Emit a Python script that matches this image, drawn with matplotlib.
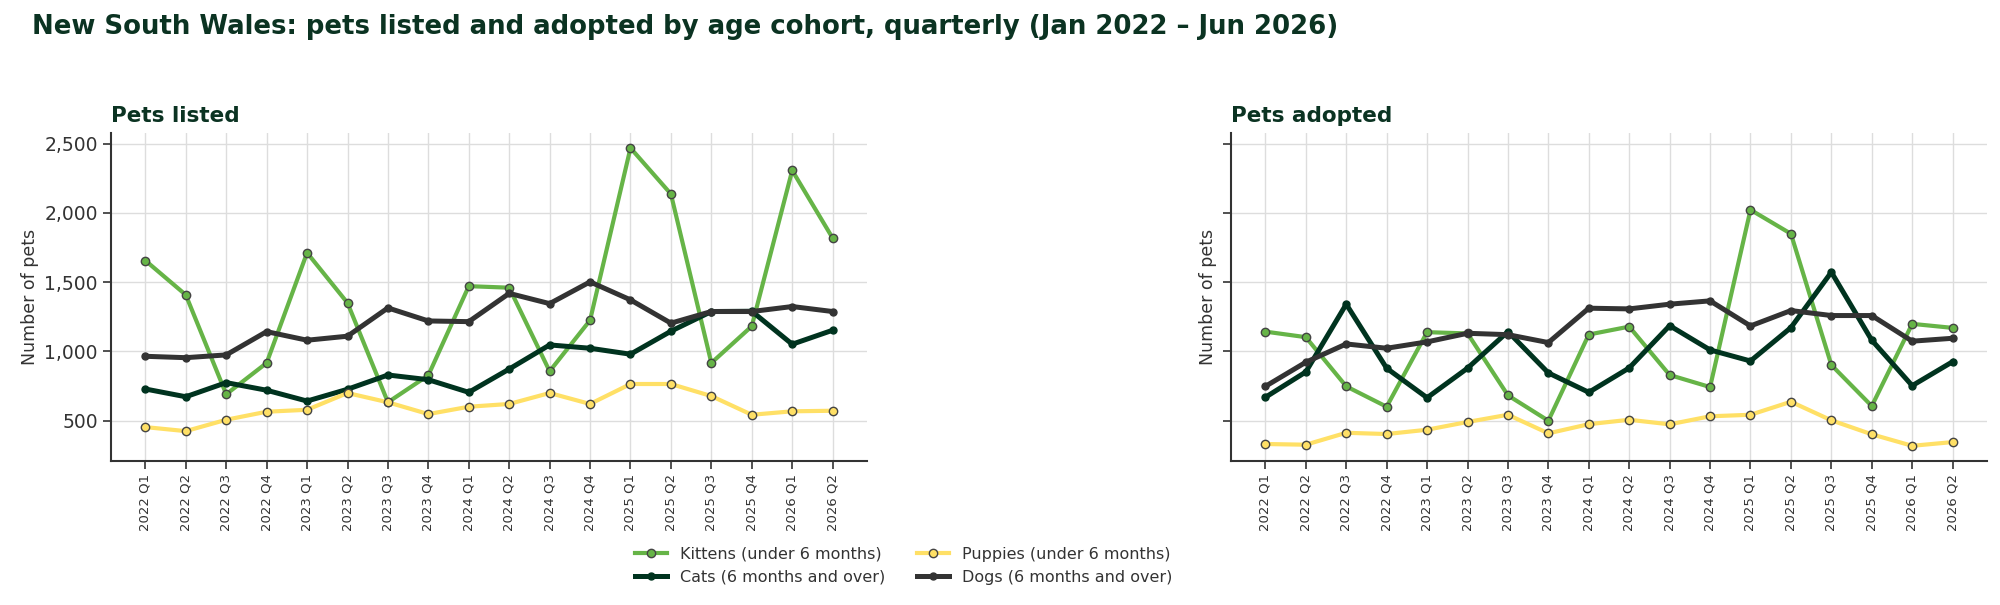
import numpy as np
import matplotlib
matplotlib.use("Agg")
import matplotlib.pyplot as plt

quarters = ["2022 Q1", "2022 Q2", "2022 Q3", "2022 Q4",
            "2023 Q1", "2023 Q2", "2023 Q3", "2023 Q4",
            "2024 Q1", "2024 Q2", "2024 Q3", "2024 Q4",
            "2025 Q1", "2025 Q2", "2025 Q3", "2025 Q4",
            "2026 Q1", "2026 Q2"]

# pets listed
listed_kittens = [1656, 1408, 691, 917, 1712, 1350, 633, 828, 1471, 1460,
                  857, 1225, 2468, 2136, 917, 1182, 2306, 1818]
listed_cats = [729, 673, 775, 720, 642, 727, 830, 796, 705, 873,
               1047, 1023, 980, 1146, 1288, 1290, 1052, 1153]
listed_puppies = [454, 425, 507, 565, 579, 700, 633, 548, 601, 621,
                  700, 621, 765, 765, 678, 543, 568, 572]
listed_dogs = [965, 955, 975, 1143, 1081, 1110, 1314, 1220, 1215, 1419,
               1345, 1502, 1372, 1204, 1288, 1288, 1324, 1288]

# pets adopted
adopted_kittens = [1143, 1103, 748, 601, 1139, 1130, 683, 500, 1122, 1179,
                   830, 743, 2022, 1849, 902, 606, 1199, 1170]
adopted_cats = [669, 852, 1341, 879, 666, 879, 1143, 845, 705, 881,
                1186, 1011, 931, 1172, 1572, 1081, 753, 926]
adopted_puppies = [332, 327, 413, 404, 435, 491, 543, 409, 475, 507,
                   474, 532, 543, 637, 503, 402, 319, 346]
adopted_dogs = [748, 922, 1054, 1023, 1069, 1131, 1121, 1064, 1312, 1307,
                1341, 1365, 1184, 1295, 1259, 1259, 1074, 1095]

green = "#66B447"
darkgreen = "#00331F"
yellow = "#FFE066"
grey = "#333333"
title_col = "#0B3322"

fig, axes = plt.subplots(1, 2, figsize=(20, 6.05), dpi=100, sharey=True)
fig.subplots_adjust(left=0.0555, right=0.9935, bottom=0.2385, top=0.780, wspace=0.4815)

x = np.arange(len(quarters))
panels = [("Pets listed", listed_kittens, listed_cats, listed_puppies, listed_dogs),
          ("Pets adopted", adopted_kittens, adopted_cats, adopted_puppies, adopted_dogs)]

for ax, (name, kit, cat, pup, dog) in zip(axes, panels):
    ax.plot(x, kit, color=green, lw=3.0, marker="o", ms=6, mfc=green,
            mec="#444444", mew=1.0, label="Kittens (under 6 months)", zorder=3)
    ax.plot(x, cat, color=darkgreen, lw=3.6, marker="o", ms=5, mfc=darkgreen,
            mec=darkgreen, label="Cats (6 months and over)", zorder=3)
    ax.plot(x, pup, color=yellow, lw=3.0, marker="o", ms=6, mfc=yellow,
            mec="#444444", mew=1.0, label="Puppies (under 6 months)", zorder=3)
    ax.plot(x, dog, color=grey, lw=3.6, marker="o", ms=5, mfc=grey,
            mec=grey, label="Dogs (6 months and over)", zorder=3)

    ax.set_title(name, loc="left", fontsize=15.5, fontweight="bold", color=title_col, pad=8)
    ax.set_ylabel("Number of pets", fontsize=12.5, color=grey)
    ax.set_xticks(x)
    ax.set_xticklabels(quarters, rotation=90, fontsize=9.5, color=grey)
    ax.tick_params(axis="y", labelsize=13.5, labelcolor=grey, length=6, width=1.2, color=grey)
    ax.tick_params(axis="x", length=6, width=1.2, color=grey)
    ax.grid(True, color="#DDDDDD", lw=1.0, zorder=0)
    ax.set_axisbelow(True)
    for s in ["top", "right"]:
        ax.spines[s].set_visible(False)
    for s in ["left", "bottom"]:
        ax.spines[s].set_color(grey)
        ax.spines[s].set_linewidth(1.5)

axes[0].yaxis.set_major_formatter(matplotlib.ticker.StrMethodFormatter("{x:,.0f}"))
axes[0].set_yticks([500, 1000, 1500, 2000, 2500])

fig.text(0.016, 0.943, "New South Wales: pets listed and adopted by age cohort, quarterly (Jan 2022 \u2013 Jun 2026)",
         fontsize=18.7, fontweight="bold", color=title_col, va="baseline", ha="left")

handles, labels = axes[0].get_legend_handles_labels()
fig.legend(handles, labels, loc="center", bbox_to_anchor=(0.452, 0.065), ncol=2,
           frameon=False, fontsize=11.5, labelcolor=grey)

fig.savefig("out.png", dpi=100)
